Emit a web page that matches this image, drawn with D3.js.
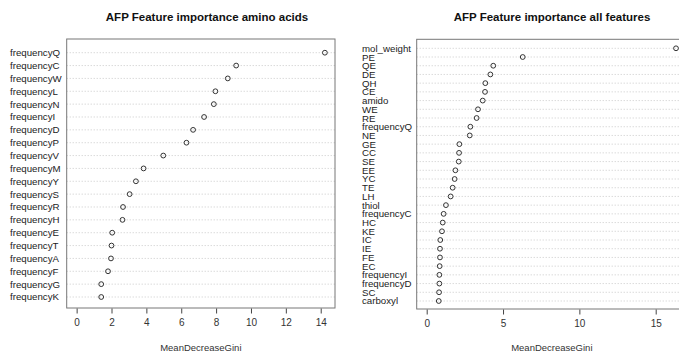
<!DOCTYPE html>
<html>
<head>
<meta charset="utf-8">
<script src="https://cdn.jsdelivr.net/npm/d3@7"></script>
<style>
  body { margin: 0; background: #fff; }
  svg text { font-family: "Liberation Sans", Arial, sans-serif; }
</style>
</head>
<body>
<svg id="chart" width="679" height="353"></svg>
<script>
// Left panel: amino acid frequencies
const aminoLabels = ["frequencyQ", "frequencyC", "frequencyW", "frequencyL", "frequencyN",
    "frequencyI", "frequencyD", "frequencyP", "frequencyV", "frequencyM",
    "frequencyY", "frequencyS", "frequencyR", "frequencyH", "frequencyE",
    "frequencyT", "frequencyA", "frequencyF", "frequencyG", "frequencyK"];
const aminoValues = [14.24, 9.15, 8.67, 7.96, 7.87, 7.31, 6.68, 6.30, 4.97, 3.84,
    3.40, 3.04, 2.66, 2.63, 2.04, 2.00, 1.97, 1.80, 1.41, 1.41];
const aminoTicks = [0, 2, 4, 6, 8, 10, 12, 14];

// Right panel: all features
const allLabels = ["mol_weight", "PE", "QE", "DE", "QH", "CE", "amido", "WE", "RE", "frequencyQ",
    "NE", "GE", "CC", "SE", "EE", "YC", "TE", "LH", "thiol", "frequencyC",
    "HC", "KE", "IC", "IE", "FE", "EC", "frequencyI", "frequencyD", "SC", "carboxyl"];
const allValues = [16.33, 6.29, 4.36, 4.17, 3.84, 3.82, 3.67, 3.36, 3.27, 2.86,
    2.82, 2.14, 2.12, 2.10, 1.88, 1.83, 1.70, 1.57, 1.26, 1.11,
    1.05, 1.00, 0.89, 0.87, 0.87, 0.85, 0.83, 0.83, 0.81, 0.79];
const allTicks = [0, 5, 10, 15];

const svg = d3.select("#chart");

function dotPanel(opts) {
    const g = svg.append("g");
    const x = d3.scaleLinear().domain(opts.xDomain).range([opts.left, opts.right]);
    const y = d3.scalePoint().domain(opts.labels).range([opts.firstRow, opts.lastRow]);
    const data = opts.labels.map((l, i) => ({ label: l, value: opts.values[i] }));

    // dotted guide lines
    g.selectAll(".guide").data(data).enter().append("line")
        .attr("x1", opts.left).attr("x2", opts.right)
        .attr("y1", d => y(d.label)).attr("y2", d => y(d.label))
        .attr("stroke", "#bdbdbd").attr("stroke-width", 0.8)
        .attr("stroke-dasharray", "1,2");

    g.selectAll(".dot").data(data).enter().append("circle")
        .attr("cx", d => x(d.value)).attr("cy", d => y(d.label))
        .attr("r", 2.4).attr("fill", "none")
        .attr("stroke", "#333").attr("stroke-width", 1);

    // box
    g.append("rect")
        .attr("x", opts.left).attr("y", opts.top)
        .attr("width", opts.right - opts.left).attr("height", opts.bottom - opts.top)
        .attr("fill", "none").attr("stroke", "#777").attr("stroke-width", 1);

    // labels
    g.selectAll(".lab").data(data).enter().append("text")
        .attr("x", opts.labelX).attr("y", d => y(d.label))
        .attr("dy", "0.36em")
        .attr("font-size", opts.labelSize).attr("fill", "#222")
        .text(d => d.label);

    // x axis
    const axis = g.append("g")
        .attr("transform", `translate(0,${opts.bottom + 0.5})`)
        .call(d3.axisBottom(x).tickValues(opts.ticks).tickSize(5).tickPadding(5));
    axis.select(".domain").remove();
    axis.selectAll("line").attr("stroke", "#444");
    axis.selectAll("text").attr("font-size", 10).attr("fill", "#333")
        .style("font-family", "'Liberation Sans', Arial, sans-serif");

    g.append("text")
        .attr("x", (opts.left + opts.right) / 2).attr("y", 351)
        .attr("text-anchor", "middle").attr("font-size", 9.5).attr("fill", "#333")
        .text("MeanDecreaseGini");

    g.append("text")
        .attr("x", opts.titleX).attr("y", 21)
        .attr("text-anchor", "middle").attr("font-size", 11.5)
        .attr("font-weight", "bold").attr("fill", "#111")
        .text(opts.title);
}

dotPanel({
    labels: aminoLabels, values: aminoValues, ticks: aminoTicks,
    xDomain: [-0.57, 14.82], left: 66.7, right: 335, top: 39, bottom: 308,
    firstRow: 52.7, lastRow: 297, labelX: 10, labelSize: 9.7,
    title: "AFP Feature importance amino acids", titleX: 207
});

dotPanel({
    labels: allLabels, values: allValues, ticks: allTicks,
    xDomain: [-0.655, 17.05], left: 416.7, right: 687, top: 39.3, bottom: 309,
    firstRow: 48.3, lastRow: 301, labelX: 362, labelSize: 9.7,
    title: "AFP Feature importance all features", titleX: 552
});
</script>
</body>
</html>
